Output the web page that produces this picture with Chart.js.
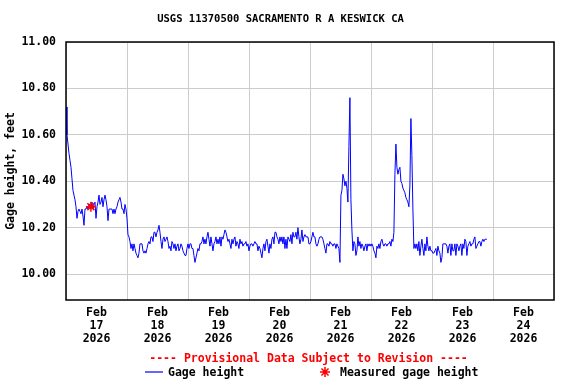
<!DOCTYPE html>
<html>
<head>
<meta charset="utf-8">
<script src="https://cdn.jsdelivr.net/npm/chart.js@4.4.1/dist/chart.umd.min.js"></script>
<style>
  html, body { margin: 0; padding: 0; background: #fff; }
</style>
</head>
<body>
<canvas id="gageChart" width="576" height="384"></canvas>
<script>
// USGS 11370500 - gage height, Feb 17-24 2026

const stationTitle = 'USGS 11370500 SACRAMENTO R A KESWICK CA';
const provisionalNote = '---- Provisional Data Subject to Revision ----';
const seriesName = 'Gage height';
const measuredName = 'Measured gage height';
const yAxisName = 'Gage height, feet';

const monthLabel = 'Feb';
const yearLabel = '2026';
const dayLabels = ['17', '18', '19', '20', '21', '22', '23', '24'];
const tickHours = [0, 12, 24, 36, 48, 60, 72, 84, 96, 108, 120, 132, 144, 156, 168, 180, 192];
const yTicks = [10.00, 10.20, 10.40, 10.60, 10.80, 11.00];

// readings, one every ~23.6 min starting Feb 17 00:00
const sampleMinutes = 23.6;
const gageHeight = [
  10.72,10.60,10.56,10.52,10.49,10.46,10.41,10.36,10.34,10.32,
  10.29,10.24,10.27,10.28,10.27,10.26,10.28,10.25,10.21,10.28,
  10.28,10.29,10.28,10.30,10.30,10.29,10.31,10.28,10.30,10.31,
  10.24,10.29,10.31,10.34,10.30,10.31,10.33,10.29,10.32,10.34,
  10.32,10.29,10.23,10.28,10.28,10.28,10.28,10.26,10.28,10.26,
  10.28,10.29,10.31,10.32,10.33,10.31,10.28,10.28,10.26,10.30,
  10.28,10.24,10.17,10.16,10.14,10.11,10.13,10.10,10.13,10.11,
  10.09,10.08,10.07,10.09,10.13,10.13,10.13,10.10,10.09,10.10,
  10.09,10.11,10.13,10.14,10.13,10.16,10.16,10.14,10.18,10.18,
  10.16,10.18,10.19,10.21,10.18,10.14,10.11,10.15,10.16,10.14,
  10.15,10.16,10.14,10.11,10.12,10.10,10.14,10.13,10.11,10.13,
  10.10,10.12,10.13,10.10,10.11,10.13,10.12,10.10,10.09,10.08,
  10.08,10.11,10.13,10.11,10.13,10.13,10.11,10.11,10.08,10.05,
  10.07,10.09,10.11,10.10,10.13,10.13,10.14,10.16,10.13,10.15,
  10.13,10.16,10.18,10.15,10.12,10.16,10.13,10.10,10.13,10.14,
  10.16,10.13,10.15,10.13,10.16,10.12,10.16,10.15,10.17,10.19,
  10.18,10.16,10.14,10.15,10.13,10.11,10.15,10.13,10.15,10.16,
  10.12,10.14,10.13,10.11,10.15,10.13,10.14,10.12,10.13,10.13,
  10.14,10.12,10.13,10.10,10.12,10.13,10.13,10.12,10.13,10.14,
  10.13,10.13,10.10,10.12,10.11,10.09,10.07,10.11,10.13,10.10,
  10.14,10.15,10.12,10.09,10.13,10.11,10.15,10.16,10.13,10.18,
  10.18,10.16,10.15,10.13,10.16,10.14,10.16,10.13,10.16,10.11,
  10.15,10.11,10.16,10.15,10.14,10.17,10.13,10.18,10.16,10.16,
  10.18,10.15,10.20,10.16,10.13,10.15,10.19,10.14,10.16,10.17,
  10.16,10.16,10.16,10.13,10.13,10.14,10.16,10.18,10.16,10.16,
  10.13,10.12,10.13,10.15,10.16,10.16,10.16,10.15,10.13,10.11,
  10.09,10.13,10.13,10.12,10.14,10.13,10.13,10.12,10.13,10.13,
  10.11,10.13,10.12,10.11,10.05,10.34,10.36,10.43,10.41,10.38,
  10.40,10.37,10.31,10.55,10.76,10.32,10.19,10.10,10.14,10.13,
  10.08,10.10,10.16,10.12,10.14,10.11,10.13,10.12,10.10,10.12,
  10.13,10.10,10.13,10.12,10.13,10.12,10.13,10.12,10.10,10.09,
  10.07,10.12,10.11,10.13,10.11,10.14,10.15,10.13,10.12,10.13,
  10.13,10.12,10.13,10.13,10.14,10.12,10.15,10.14,10.18,10.43,
  10.56,10.46,10.43,10.45,10.46,10.40,10.39,10.37,10.36,10.35,
  10.33,10.32,10.31,10.29,10.38,10.67,10.51,10.28,10.11,10.13,
  10.11,10.13,10.10,10.14,10.08,10.12,10.15,10.11,10.08,10.13,
  10.10,10.16,10.12,10.10,10.12,10.10,10.10,10.09,10.09,10.10,
  10.11,10.08,10.12,10.10,10.09,10.05,10.07,10.13,10.13,10.13,
  10.13,10.12,10.09,10.12,10.13,10.08,10.13,10.10,10.10,10.13,
  10.08,10.13,10.12,10.10,10.12,10.13,10.08,10.13,10.11,10.15,
  10.14,10.08,10.12,10.13,10.14,10.12,10.13,10.13,10.15,10.16,
  10.11,10.12,10.13,10.14,10.14,10.12,10.14,10.15,10.14,10.15,
  10.15,10.15
];

// field measurement (hours after Feb 17 00:00)
const measuredHours = [9.8];
const measuredHeight = [10.29];

const monoFont = '"DejaVu Sans Mono", "Liberation Mono", monospace';

const gagePoints = gageHeight.map((v, i) => ({ x: i * sampleMinutes / 60, y: v }));
const measuredPoints = measuredHours.map((h, i) => ({ x: h, y: measuredHeight[i] }));

// frame, title and the legend block under the axis
const usgsDecor = {
  id: 'usgsDecor',
  afterDraw(chart) {
    const ctx = chart.ctx;
    const a = chart.chartArea;
    ctx.save();
    ctx.strokeStyle = '#000';
    ctx.lineWidth = 1.5;
    ctx.strokeRect(a.left, a.top, a.right - a.left, a.bottom - a.top);

    ctx.textBaseline = 'middle';
    ctx.textAlign = 'center';
    ctx.fillStyle = '#000';
    ctx.font = 'bold 10.5px ' + monoFont;
    ctx.fillText(stationTitle, 280.5, 19);

    ctx.font = 'bold 11.5px ' + monoFont;
    ctx.fillStyle = '#ff0000';
    ctx.fillText(provisionalNote, 308.5, 359);

    // legend row
    ctx.beginPath();
    ctx.strokeStyle = '#0000ff';
    ctx.lineWidth = 1.2;
    ctx.moveTo(145, 372);
    ctx.lineTo(163, 372);
    ctx.stroke();
    ctx.textAlign = 'left';
    ctx.fillStyle = '#000';
    ctx.fillText(seriesName, 168, 373);

    ctx.strokeStyle = '#ff0000';
    ctx.lineWidth = 1.5;
    Chart.helpers.drawPoint(ctx, { pointStyle: 'star', radius: 5, borderWidth: 1.5, rotation: 0 }, 325, 372);
    ctx.fillStyle = '#000';
    ctx.fillText(measuredName, 340, 373);
    ctx.restore();
  }
};

const tickFont = { family: monoFont, weight: 'bold', size: 11.5, lineHeight: 1.13 };

new Chart(document.getElementById('gageChart'), {
  type: 'line',
  data: {
    datasets: [
      {
        label: measuredName,
        data: measuredPoints,
        showLine: false,
        pointStyle: 'star',
        pointRadius: 5,
        pointBorderWidth: 1.5,
        borderColor: '#ff0000',
        backgroundColor: '#ff0000',
        order: 0
      },
      {
        label: seriesName,
        data: gagePoints,
        borderColor: '#0000ff',
        borderWidth: 1,
        pointRadius: 0,
        tension: 0,
        fill: false,
        order: 1
      }
    ]
  },
  options: {
    responsive: false,
    animation: false,
    devicePixelRatio: 1,
    layout: { padding: { top: 42, right: 22, bottom: 0, left: 0 } },
    plugins: {
      legend: { display: false },
      title: { display: false },
      tooltip: { enabled: false }
    },
    scales: {
      x: {
        type: 'linear',
        min: 0,
        max: 192,
        afterBuildTicks: s => { s.ticks = tickHours.map(v => ({ value: v })); },
        afterFit: s => { s.height = 84; },
        grid: {
          color: c => (c.tick && c.tick.value % 24 === 0) ? '#cccccc' : 'rgba(0,0,0,0)',
          lineWidth: 1,
          drawTicks: false
        },
        border: { display: false },
        ticks: {
          autoSkip: false,
          maxRotation: 0,
          padding: 7,
          color: '#000',
          font: tickFont,
          callback: v => {
            const d = (v - 12) / 24;
            return Number.isInteger(d) ? [monthLabel, dayLabels[d], yearLabel] : '';
          }
        }
      },
      y: {
        min: 9.888,
        max: 11.0,
        afterBuildTicks: s => { s.ticks = yTicks.map(v => ({ value: v })); },
        afterFit: s => { s.width = 66; },
        grid: { color: '#cccccc', lineWidth: 1, drawTicks: false },
        border: { display: false },
        ticks: {
          padding: 10,
          color: '#000',
          font: tickFont,
          callback: v => v.toFixed(2)
        },
        title: {
          display: true,
          text: yAxisName,
          color: '#000',
          font: { family: monoFont, weight: 'bold', size: 11.5 },
          padding: { top: 4.5, bottom: 0 }
        }
      }
    }
  },
  plugins: [usgsDecor]
});
</script>
</body>
</html>
